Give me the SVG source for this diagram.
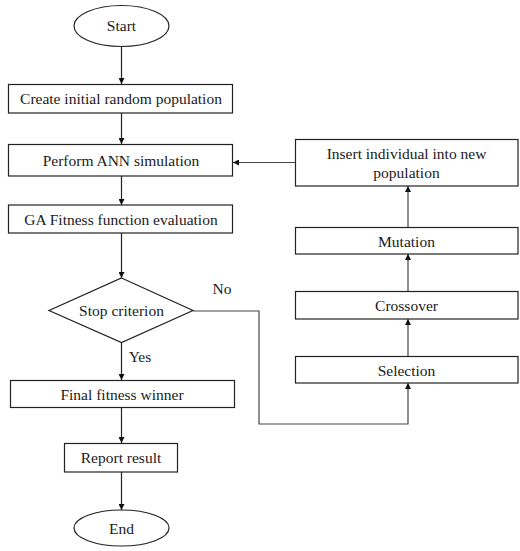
<svg xmlns="http://www.w3.org/2000/svg" width="520" height="551" viewBox="0 0 520 551">
<defs>
<marker id="ah" viewBox="0 0 10 10" refX="10" refY="5" markerWidth="6" markerHeight="6" markerUnits="userSpaceOnUse" orient="auto">
<path d="M0,0 L10,5 L0,10 z" fill="#111"/>
</marker>
</defs>
<style>
.box{fill:#fff;stroke:#222;stroke-width:1.2}
.t{font-family:"Liberation Serif","Times New Roman",serif;font-size:15.5px;fill:#1a1a1a;text-anchor:middle}
.c{fill:none;stroke:#222;stroke-width:1.2}
.g{fill:none;stroke:#444;stroke-width:1.2}
</style>
<rect width="520" height="551" fill="#fff"/>
<g id="connectors">
<line class="c" x1="121.5" y1="47" x2="121.5" y2="84" marker-end="url(#ah)"/>
<line class="c" x1="121.5" y1="113" x2="121.5" y2="144" marker-end="url(#ah)"/>
<line class="c" x1="121.5" y1="176" x2="121.5" y2="205" marker-end="url(#ah)"/>
<line class="c" x1="121.5" y1="233" x2="121.5" y2="278" marker-end="url(#ah)"/>
<line class="c" x1="121.5" y1="342" x2="121.5" y2="380" marker-end="url(#ah)"/>
<line class="c" x1="121.5" y1="407" x2="121.5" y2="443" marker-end="url(#ah)"/>
<line class="c" x1="121.5" y1="472" x2="121.5" y2="510" marker-end="url(#ah)"/>
<polyline class="g" points="193,311 259,311 259,424 408,424 408,383" marker-end="url(#ah)"/>
<line class="g" x1="408" y1="356" x2="408" y2="319" marker-end="url(#ah)"/>
<line class="g" x1="408" y1="291" x2="408" y2="254" marker-end="url(#ah)"/>
<line class="g" x1="408" y1="227" x2="408" y2="186" marker-end="url(#ah)"/>
<line class="g" x1="295" y1="162.5" x2="233" y2="162.5" marker-end="url(#ah)"/>
<text class="t" x="222" y="294">No</text>
<text class="t" x="140" y="362">Yes</text>
</g>
<g id="start">
<ellipse class="box" cx="121.5" cy="26" rx="47.5" ry="20.5"/>
<text class="t" x="121.5" y="31">Start</text>
</g>
<g id="create">
<rect class="box" x="8.5" y="84.5" width="224" height="28.5"/>
<text class="t" x="121" y="104">Create initial random population</text>
</g>
<g id="perform">
<rect class="box" x="8.5" y="144.5" width="224" height="31.5"/>
<text class="t" x="121" y="165.5">Perform ANN simulation</text>
</g>
<g id="fitness">
<rect class="box" x="8.5" y="205" width="224" height="28"/>
<text class="t" x="121" y="224.5">GA Fitness function evaluation</text>
</g>
<g id="stop">
<polygon class="box" points="121.5,278 193,310.5 121.5,342.5 49,310.5"/>
<text class="t" x="121.5" y="316">Stop criterion</text>
</g>
<g id="final">
<rect class="box" x="10.5" y="380.5" width="224" height="27"/>
<text class="t" x="122" y="399.5">Final fitness winner</text>
</g>
<g id="report">
<rect class="box" x="64.5" y="443.5" width="113" height="28.5"/>
<text class="t" x="121" y="463">Report result</text>
</g>
<g id="end">
<ellipse class="box" cx="121.5" cy="528" rx="47.5" ry="18"/>
<text class="t" x="121.5" y="533.5">End</text>
</g>
<g id="insert">
<rect class="box" x="295.5" y="139.5" width="222.5" height="46.5"/>
<text class="t" x="406.5" y="159">Insert individual into new</text>
<text class="t" x="406.5" y="177.5">population</text>
</g>
<g id="mutation">
<rect class="box" x="295.5" y="227.5" width="222.5" height="26.5"/>
<text class="t" x="406.5" y="246.5">Mutation</text>
</g>
<g id="crossover">
<rect class="box" x="295.5" y="291.5" width="222.5" height="27.5"/>
<text class="t" x="406.5" y="310.5">Crossover</text>
</g>
<g id="selection">
<rect class="box" x="295.5" y="356.5" width="222.5" height="26.5"/>
<text class="t" x="406.5" y="375.5">Selection</text>
</g>
</svg>
